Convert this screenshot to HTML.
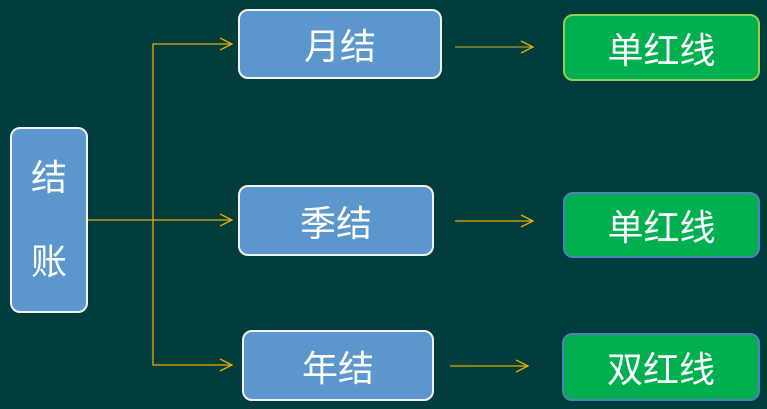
<!DOCTYPE html>
<html><head><meta charset="utf-8"><style>
body{margin:0;width:767px;height:409px;background:#013d3d;overflow:hidden;position:relative;font-family:"Liberation Sans","Noto Sans CJK SC",sans-serif;}
.b{position:absolute;box-sizing:border-box;border-radius:10px;display:flex;align-items:center;justify-content:center;color:#fff;font-size:36px;}
.bl{background:#5b96cc;border:2px solid #f2f2f2;}
.g{background:#00b050;border:2px solid #4f81bd;}
</style></head><body>
<svg width="767" height="409" style="position:absolute;left:0;top:0">
<g stroke="#e8b000" stroke-width="1.3" fill="none">
<line x1="88" y1="220" x2="232" y2="220"/>
<polyline points="231,44 153,44 153,365 231,365"/>
<polyline points="220,38 232,44 220,50"/>
<polyline points="220,214 232,220 220,226"/>
<polyline points="220,359 232,365 220,371"/>
<line x1="455" y1="47" x2="533" y2="47" stroke="#a89a20"/>
<polyline points="521,41 533,47 521,53"/>
<line x1="455" y1="221" x2="533" y2="221"/>
<polyline points="521,215 533,221 521,227"/>
<line x1="450" y1="366" x2="528" y2="366"/>
<polyline points="516,360 528,366 516,372"/>
</g></svg>
<div class="b bl" style="left:10px;top:127px;width:78px;height:186px;flex-direction:column;line-height:84px">结<br>账</div>
<div class="b bl" style="left:238px;top:9px;width:204px;height:70px">月结</div>
<div class="b bl" style="left:238px;top:185px;width:196px;height:71px">季结</div>
<div class="b bl" style="left:242px;top:330px;width:192px;height:71px">年结</div>
<div class="b g" style="left:563px;top:14px;width:197px;height:67px;border-color:#92d050">单红线</div>
<div class="b g" style="left:563px;top:192px;width:197px;height:66px">单红线</div>
<div class="b g" style="left:562px;top:333px;width:198px;height:68px">双红线</div>
</body></html>
